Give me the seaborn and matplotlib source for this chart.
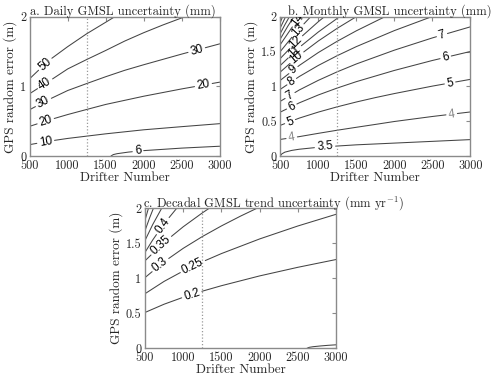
import numpy as np
import matplotlib
matplotlib.use("Agg")
import matplotlib.pyplot as plt
import seaborn as sns

# ---- axis ticks ----
x_ticks = [500, 1000, 1500, 2000, 2500, 3000]
x_ticklabels = ["500", "1000", "1500", "2000", "2500", "3000"]
y_ticks_a = [0, 1, 2]
y_ticklabels_a = ["0", "1", "2"]
y_ticks_bc = [0, 0.5, 1, 1.5, 2]
y_ticklabels_bc = ["0", "0.5", "1", "1.5", "2"]
drifter_ref = 1250

# ---- a. daily GMSL uncertainty contours ----
daily_levels = ["50", "40", "30", "20", "10", "6"]
daily_x = [
    [500, 750, 1000, 1250, 1500, 1620],
    [500, 750, 1000, 1250, 1500, 1750, 2000, 2250, 2543],
    [500, 750, 1000, 1250, 1500, 1750, 2000, 2500, 3000],
    [500, 750, 1000, 1250, 1500, 2000, 2500, 3000],
    [500, 750, 1000, 1500, 2000, 2500, 3000],
    [1570, 1600, 1650, 1800, 2000, 2500, 3000],
]
daily_y = [
    [1.11, 1.37, 1.57, 1.755, 1.92, 2.0],
    [0.895, 1.07, 1.25, 1.385, 1.515, 1.65, 1.77, 1.88, 2.0],
    [0.665, 0.81, 0.94, 1.04, 1.138, 1.23, 1.31, 1.463, 1.61],
    [0.426, 0.515, 0.595, 0.668, 0.74, 0.858, 0.963, 1.06],
    [0.163, 0.212, 0.252, 0.318, 0.376, 0.421, 0.464],
    [0.0, 0.02, 0.033, 0.056, 0.077, 0.113, 0.14],
]

# ---- b. monthly GMSL uncertainty contours ----
monthly_levels = ["3.5", "4", "5", "6", "7", "8", "9", "10", "11", "12",
                  "13", "14", "15", "16", "17", "18"]
monthly_x = [
    [500, 520, 560, 650, 750, 1000, 1250, 1500, 2000, 2500, 3000],
    [500, 750, 1000, 1250, 1500, 1750, 2000, 2500, 3000],
    [500, 750, 1000, 1250, 1500, 1750, 2000, 2500, 3000],
    [500, 750, 1000, 1250, 1500, 2000, 2500, 3000],
    [500, 750, 1000, 1250, 1500, 2000, 2500, 3000],
    [500, 750, 1000, 1250, 1500, 2000, 2492],
    [500, 750, 1000, 1250, 1500, 1877],
    [500, 750, 1000, 1250, 1500],
    [500, 750, 1000, 1280],
    [500, 750, 1000, 1080],
    [500, 700, 900],
    [500, 650, 760],
    [500, 600, 680],
    [500, 560, 620],
    [500, 570],
    [500, 530],
]
monthly_y = [
    [0.0, 0.03, 0.055, 0.08, 0.097, 0.125, 0.143, 0.16, 0.185, 0.21, 0.235],
    [0.238, 0.278, 0.325, 0.37, 0.412, 0.453, 0.495, 0.567, 0.632],
    [0.44, 0.544, 0.63, 0.706, 0.775, 0.838, 0.896, 1.003, 1.10],
    [0.63, 0.763, 0.876, 0.976, 1.067, 1.228, 1.371, 1.50],
    [0.785, 0.948, 1.086, 1.209, 1.321, 1.519, 1.695, 1.854],
    [0.957, 1.141, 1.30, 1.441, 1.57, 1.80, 2.0],
    [1.086, 1.30, 1.485, 1.648, 1.797, 2.0],
    [1.206, 1.446, 1.651, 1.834, 2.0],
    [1.30, 1.559, 1.78, 2.0],
    [1.40, 1.685, 1.928, 2.0],
    [1.50, 1.768, 2.0],
    [1.60, 1.84, 2.0],
    [1.68, 1.866, 2.0],
    [1.76, 1.884, 2.0],
    [1.84, 2.0],
    [1.92, 2.0],
]

# ---- c. decadal GMSL trend uncertainty contours ----
decadal_levels = ["0.2", "0.25", "0.3", "0.35", "0.4", "0.45", "0.5",
                  "0.55", "0.6", "0.15"]
decadal_x = [
    [500, 750, 1000, 1250, 1500, 2000, 2500, 3000],
    [500, 750, 1000, 1250, 1500, 2000, 2500, 3000],
    [500, 750, 1000, 1250, 1500, 1750, 1964],
    [500, 750, 1000, 1250, 1340],
    [500, 600, 700, 800, 915],
    [500, 600, 718],
    [500, 560, 610],
    [500, 545],
    [500, 505],
    [2620, 2650, 2700, 2800, 2900, 3000],
]
decadal_y = [
    [0.512, 0.63, 0.729, 0.816, 0.894, 1.034, 1.157, 1.268],
    [0.78, 0.956, 1.104, 1.235, 1.353, 1.562, 1.747, 1.914],
    [1.01, 1.237, 1.428, 1.596, 1.748, 1.888, 2.0],
    [1.25, 1.513, 1.736, 1.934, 2.0],
    [1.37, 1.546, 1.703, 1.847, 2.0],
    [1.54, 1.766, 2.0],
    [1.68, 1.862, 2.0],
    [1.83, 2.0],
    [1.97, 2.0],
    [0.0, 0.014, 0.023, 0.034, 0.043, 0.05],
]

# where the inline labels sit along each line (drifter number)
daily_label_at = [[702], [702], [680, 2697], [710, 2785], [710], [1925]]
monthly_label_at = [[1088], [650, 2755], [628, 2733], [650, 2676], [628, 2627],
                    [650], [672], [716], [690], [707], [730], [730],
                    [], [], [], []]
decadal_label_at = [[1112], [1125], [700], [709], [731], [], [], [], [], []]

sns.set_style("white")
plt.rcParams['font.family'] = 'serif'
plt.rcParams['font.serif'] = ['cmr10']
plt.rcParams['mathtext.fontset'] = 'cm'
plt.rcParams['axes.formatter.use_mathtext'] = True

FRAME = '#8a8a8a'
LINE = '#444444'
LAB_FS = 8.4
fs_px = LAB_FS * 100 / 72.0


def text_width(txt):
    w = 0
    for ch in txt:
        w += 0.28 if ch == '.' else 0.556
    return w * fs_px


def draw_contour(ax, xs, ys, txt, label_at, lab_color='black'):
    xs = np.asarray(xs, float)
    ys = np.asarray(ys, float)
    pts = ax.transData.transform(np.column_stack([xs, ys]))
    s = np.concatenate([[0], np.cumsum(np.hypot(*np.diff(pts, axis=0).T))])
    inv = ax.transData.inverted()
    half = text_width(txt) / 2 + 2.5
    cuts = []
    for lx in label_at:
        sc = np.interp(lx, xs, s)
        p0 = np.array([np.interp(sc - half, s, pts[:, 0]), np.interp(sc - half, s, pts[:, 1])])
        p1 = np.array([np.interp(sc + half, s, pts[:, 0]), np.interp(sc + half, s, pts[:, 1])])
        pc = np.array([np.interp(sc, s, pts[:, 0]), np.interp(sc, s, pts[:, 1])])
        ang = np.degrees(np.arctan2(p1[1] - p0[1], p1[0] - p0[0]))
        tx, ty = inv.transform(pc)
        ax.text(tx, ty, txt, rotation=ang, rotation_mode='anchor', ha='center',
                va='center', fontsize=LAB_FS, family='Liberation Sans',
                color=lab_color, clip_on=True)
        cuts.append((sc - half, sc + half))
    pieces = []
    start = 0.0
    for a, b in sorted(cuts):
        pieces.append((start, a))
        start = b
    pieces.append((start, s[-1]))
    for a, b in pieces:
        a = max(a, 0.0)
        b = min(b, s[-1])
        if b - a <= 0.5:
            continue
        inner = s[(s > a) & (s < b)]
        ss = np.concatenate([[a], inner, [b]])
        dp = np.column_stack([np.interp(ss, s, pts[:, 0]), np.interp(ss, s, pts[:, 1])])
        dd = inv.transform(dp)
        sns.lineplot(x=dd[:, 0], y=dd[:, 1], ax=ax, color=LINE, lw=0.75,
                     sort=False, estimator=None)


def setup_axes(ax, title, title_x, yt, ytl):
    ax.set_xlim(500, 3000)
    ax.set_ylim(0, 2)
    ax.set_xticks(x_ticks)
    ax.set_xticklabels(x_ticklabels)
    ax.set_yticks(yt)
    ax.set_yticklabels(ytl)
    ax.tick_params(direction='in', top=True, right=True, color=FRAME,
                   length=3, width=0.8, labelsize=8.8, pad=2.5)
    for sp in ax.spines.values():
        sp.set_color(FRAME)
        sp.set_linewidth(1.0)
    ax.set_title(title, fontsize=9.0, pad=1.5, loc='left', x=title_x)
    ax.set_xlabel("Drifter Number", fontsize=9.5, labelpad=0)
    ax.set_ylabel("GPS random error (m)", fontsize=9.5, labelpad=2)


def draw_panel(ax, levels, xs, ys, label_at, gray=()):
    for lev, x, y, la in zip(levels, xs, ys, label_at):
        col = '#8c8c8c' if lev in gray else 'black'
        draw_contour(ax, x, y, lev, la, col)
    ax.axvline(drifter_ref, color='#9a9a9a', ls=(0, (1, 1.6)), lw=0.9)
    ax.set_xlim(500, 3000)
    ax.set_ylim(0, 2)


fig = plt.figure(figsize=(5, 3.81), dpi=100)
ax_a = fig.add_axes([0.0594, 0.5906, 0.38, 0.3656])
ax_b = fig.add_axes([0.5606, 0.5906, 0.38, 0.3656])
ax_c = fig.add_axes([0.29, 0.0858, 0.382, 0.3675])

setup_axes(ax_a, "a. Daily GMSL uncertainty (mm)", 0.0, y_ticks_a, y_ticklabels_a)
setup_axes(ax_b, "b. Monthly GMSL uncertainty (mm)", 0.04, y_ticks_bc, y_ticklabels_bc)
setup_axes(ax_c, r"c. Decadal GMSL trend uncertainty (mm yr$^{-1}$)", -0.01,
           y_ticks_bc, y_ticklabels_bc)

draw_panel(ax_a, daily_levels, daily_x, daily_y, daily_label_at)
draw_panel(ax_b, monthly_levels, monthly_x, monthly_y, monthly_label_at, gray=("4",))
draw_panel(ax_c, decadal_levels, decadal_x, decadal_y, decadal_label_at)

fig.savefig("out.png", dpi=100)
